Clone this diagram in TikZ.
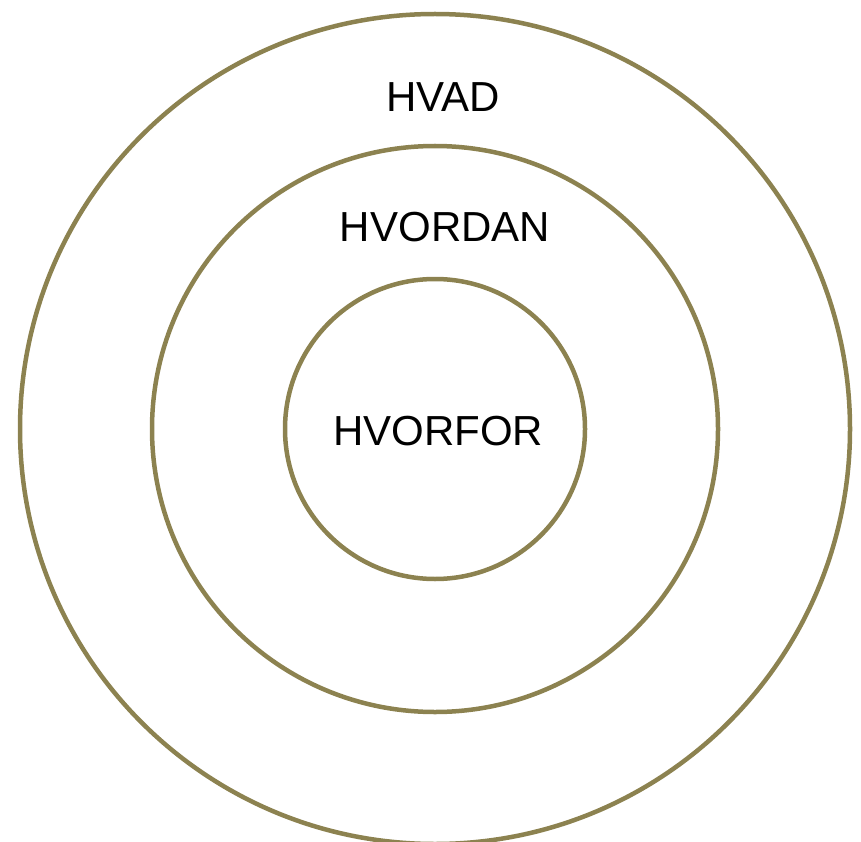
\documentclass[tikz,border=0pt]{standalone}
\usepackage{fontspec}
\setmainfont{Liberation Sans}
\definecolor{ring}{RGB}{140,130,80}
\begin{document}
\begin{tikzpicture}[x=1pt,y=-1pt,
  ringline/.style={draw=ring,line width=4.5pt},
  lbl/.style={font=\fontsize{42}{50}\selectfont,anchor=base,inner sep=0pt}]
\useasboundingbox (0,0) rectangle (861,842);
\coordinate (c) at (435,429);
\draw[ringline] (c) circle[radius=415];
\draw[ringline] (c) circle[radius=283];
\draw[ringline] (c) circle[radius=150];
\node[lbl] (hvad) at (443,112) {HVAD};
\node[lbl] (hvordan) at (445,241) {HVORDAN};
\node[lbl] (hvorfor) at (438,445) {HVORFOR};
\end{tikzpicture}
\end{document}
